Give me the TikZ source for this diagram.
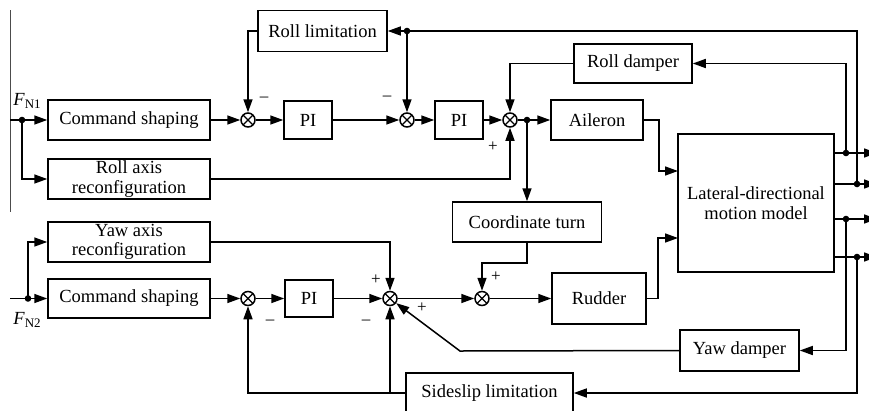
\documentclass[tikz,border=0pt]{standalone}
\usepackage{fontspec}
\setmainfont{Liberation Serif}
\usetikzlibrary{arrows.meta,calc}

\newcommand{\fsig}[1]{\textit{F}\raisebox{-0.35ex}{\fontsize{13}{13}\selectfont N#1}}

\begin{document}
\begin{tikzpicture}[x=1pt,y=-1pt,line width=1.5pt,font=\fontsize{18.5}{19.5}\selectfont]

\tikzstyle{blk} = [draw, rectangle, inner sep=0pt, align=center]
\tikzstyle{sumnode} = [draw, circle, minimum size=14pt, inner sep=0pt,
    path picture={\draw[line width=1.1pt] (path picture bounding box.north west) -- (path picture bounding box.south east)
    (path picture bounding box.north east) -- (path picture bounding box.south west);}]
\tikzstyle{arr} = [-{Triangle[length=13pt,width=9pt]}]
\tikzstyle{sgn} = [inner sep=0pt, font=\fontsize{17}{17}\selectfont]

\clip (0,0) rectangle (869,410);

\draw[line width=1pt, black!70] (10,10) -- (10,212);

% roll channel
\node[blk, minimum width=162pt, minimum height=40pt] (cs1) at (129,120) {Command shaping};
\node[blk, minimum width=162pt, minimum height=40pt] (rar) at (129,179) {Roll axis\\reconfiguration};
\node[blk, minimum width=129pt, minimum height=41pt] (rlim) at (322.5,31) {Roll limitation};
\node[blk, minimum width=48pt, minimum height=38pt] (pi1) at (308,120) {PI};
\node[blk, minimum width=48pt, minimum height=38pt] (pi2) at (459,120) {PI};
\node[blk, minimum width=92pt, minimum height=40pt] (ail) at (597,120) {Aileron};
\node[blk, minimum width=118pt, minimum height=39pt] (rdmp) at (633,63.5) {Roll damper};
\node[blk, minimum width=149pt, minimum height=40pt] (cturn) at (527,222) {Coordinate turn};
\node[blk, minimum width=156pt, minimum height=138pt] (ldmm) at (756,203) {Lateral-directional\\motion model};

\node[sumnode] (s1) at (248,120) {};
\node[sumnode] (s2) at (407,120) {};
\node[sumnode] (s3) at (510,120) {};

% yaw channel
\node[blk, minimum width=162pt, minimum height=40pt] (yar) at (129,242) {Yaw axis\\reconfiguration};
\node[blk, minimum width=162pt, minimum height=39pt] (cs2) at (129,298.5) {Command shaping};
\node[blk, minimum width=48pt, minimum height=37pt] (pi3) at (309,298.5) {PI};
\node[blk, minimum width=94pt, minimum height=51pt] (rud) at (599,298.5) {Rudder};
\node[blk, minimum width=119pt, minimum height=41pt] (ydmp) at (739.5,350.5) {Yaw damper};
\node[blk, minimum width=167pt, minimum height=40pt] (slim) at (489.5,393) {Sideslip limitation};

\node[sumnode] (s6) at (248,298.5) {};
\node[sumnode] (s4) at (390,298.5) {};
\node[sumnode] (s5) at (482,298.5) {};

\node (fn1) at (27,101) {\fsig{1}};
\node (fn2) at (27,320) {\fsig{2}};

\node[sgn] (g1) at (264,99) {--};
\node[sgn] (g2) at (387,98) {--};
\node[sgn] (g3) at (493,147) {+};
\node[sgn] (g4) at (376,280) {+};
\node[sgn] (g5) at (366,322) {--};
\node[sgn] (g6) at (422,308) {+};
\node[sgn] (g7) at (496,277) {+};
\node[sgn] (g8) at (270,322) {--};

\coordinate (in1) at (10,120);
\coordinate (in2) at (10,298.5);
\coordinate (j1) at (22,120);
\coordinate (j2) at (28,298.5);
\coordinate (j3) at (527,120);
\coordinate (j4) at (407,31);
\coordinate (d1) at (846,153);
\coordinate (d2) at (857,184);
\coordinate (d3) at (846,219);
\coordinate (d4) at (857,257);
\coordinate (yk) at (460,351);
\coordinate (ck) at (527,263);

\fill (j1) circle (3.3pt) (j2) circle (3.3pt) (j3) circle (3.3pt) (j4) circle (3.3pt);
\fill (d1) circle (3.3pt) (d2) circle (3.3pt) (d3) circle (3.3pt) (d4) circle (3.3pt);

\draw[arr] (in1) -- (cs1);
\draw[arr] (j1) |- (rar.west);
\draw[arr] (cs1) -- (s1);
\draw[arr] (s1) -- (pi1);
\draw[arr] (pi1) -- (s2);
\draw[arr] (s2) -- (pi2);
\draw[arr] (pi2) -- (s3);
\draw[arr] (s3) -- (ail);
\draw[arr] (rlim.west) -| (s1.north);
\draw[arr] (j4) -- (s2.north);
\draw[arr] (rdmp.west) -| (s3.north);
\draw[arr] (rar.east) -| (s3.south);
\draw[arr] (j3) -- (cturn.north);
\draw[arr] (ail.east) -- ++(15,0) |- (678,171);
\draw[arr] (rud.east) -- ++(11,0) |- (678,238);

\draw[arr] (ldmm.east |- d1) -- (877,153);
\draw[arr] (ldmm.east |- d2) -- (877,184);
\draw[arr] (ldmm.east |- d3) -- (877,219);
\draw[arr] (ldmm.east |- d4) -- (877,257);
\draw[arr] (d1) |- (rdmp.east);
\draw[arr] (d2) |- (rlim.east);
\draw[arr] (d3) |- (ydmp.east);
\draw[arr] (d4) |- (slim.east);

\draw[arr] (in2) -- (cs2);
\draw[arr] (j2) |- (yar.west);
\draw[arr] (cs2) -- (s6);
\draw[arr] (s6) -- (pi3);
\draw[arr] (pi3) -- (s4);
\draw[arr] (s4) -- (s5);
\draw[arr] (s5) -- (rud);
\draw[arr] (yar.east) -| (s4.north);
\draw[arr] (cturn.south) -- (ck) -| (s5.north);
\draw[arr] (ydmp.west) -- (yk) -- (s4);
\draw[arr] (slim.west) -| (s4.south);
\draw[arr] (slim.west) -| (s6.south);

\end{tikzpicture}
\end{document}
